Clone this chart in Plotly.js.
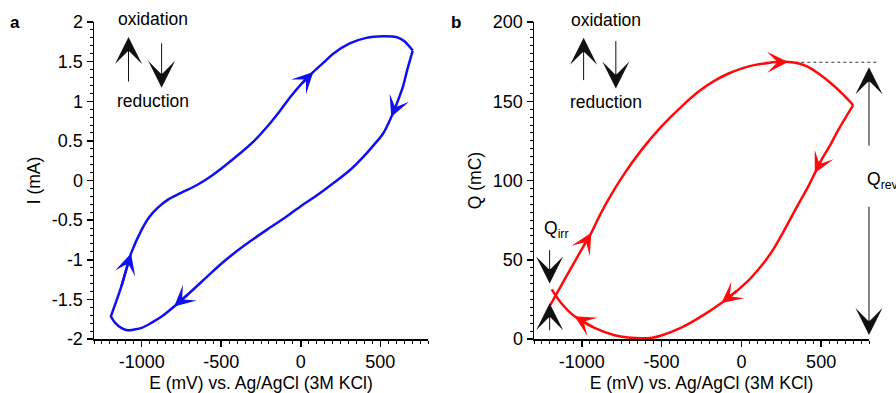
<!DOCTYPE html>
<html><head><meta charset="utf-8">
<script src="https://cdn.plot.ly/plotly-3.0.1.min.js"></script>
<style>html,body{margin:0;padding:0;background:#fff}#chart{width:896px;height:393px}</style>
</head><body><div id="chart"></div>
<script>
// Panel a: cyclic voltammogram, E (mV) and I (mA)
const aE_ox = [-1195, -1130, -1067, -1000, -952, -900, -837, -756, -652, -569, -485, -381, -298, -194, -130, -67, 0, 79, 150, 204, 308, 412, 517, 600, 650, 704];
const aI_ox = [-1.72, -1.35, -0.92, -0.62, -0.46, -0.345, -0.245, -0.16, -0.057, 0.048, 0.174, 0.343, 0.49, 0.72, 0.88, 1.05, 1.21, 1.37, 1.50, 1.60, 1.73, 1.80, 1.82, 1.81, 1.76, 1.64];
const aE_red = [704, 670, 642, 600, 569, 517, 460, 412, 360, 308, 204, 100, -4, -100, -212, -320, -421, -500, -587, -700, -796, -870, -942, -1000, -1046, -1090, -1129, -1165, -1195];
const aI_red = [1.64, 1.40, 1.18, 0.95, 0.80, 0.59, 0.45, 0.34, 0.23, 0.13, -0.036, -0.19, -0.33, -0.47, -0.62, -0.77, -0.92, -1.05, -1.21, -1.42, -1.59, -1.71, -1.80, -1.86, -1.88, -1.89, -1.86, -1.80, -1.71];
// Panel b: charge Q (mC)
const bE_ox = [-1198, -1150, -1100, -1041, -990, -941, -890, -837, -732, -628, -502, -377, -270, -167, -80, 0, 80, 167, 230, 293, 360, 418, 490, 565, 640, 701];
const bQ_ox = [21.4, 30, 39, 49.5, 58.5, 67, 77.5, 87.5, 104.5, 119, 134, 146.5, 156, 163, 167.5, 170.6, 172.8, 174.2, 174.7, 174.8, 173.8, 171.7, 167, 161, 154, 147.5];
const bE_red = [701, 655, 607, 555, 502, 460, 418, 365, 314, 260, 209, 155, 105, 40, -21, -125, -251, -377, -502, -560, -628, -710, -795, -921, -1046, -1130, -1189];
const bQ_red = [147.5, 140, 131.8, 122, 113, 104.5, 96, 86.5, 77, 67, 58, 50, 43.7, 36.5, 31, 22.7, 14.3, 7.2, 2.2, 0.8, 0.4, 0.9, 2.4, 7.0, 14.3, 22.7, 31.3];
// Direction arrows: index of arrow tip in each branch
const aArrOx = [2, 17], aArrRed = [4, 20];
const bArrOx = [5, 19], bArrRed = [5, 15, 24];
// Reversible charge level line
const qRevLevel = 174.6, qRevStart = 150, qRevEnd = 848;
// Ticks
const xRange = [-1300, 800];
const aYRange = [-2, 2], bYRange = [0, 200];
const xTickVals = [-1000, -500, 0, 500];
const xTickText = ['-1000', '-500', '0', '500'];
const aYTickVals = [-2, -1.5, -1, -0.5, 0, 0.5, 1, 1.5, 2];
const aYTickText = ['-2', '-1.5', '-1', '-0.5', '0', '0.5', '1', '1.5', '2'];
const bYTickVals = [0, 50, 100, 150, 200];
const bYTickText = ['0', '50', '100', '150', '200'];

const FONT = 'Liberation Sans, Arial, sans-serif';
const FS = 17.5;
const BLUE = '#1010f0', RED = '#ff0a0a';
const dom1 = [0, 334/775], dom2 = [440/775, 1];

function curve(x, y, color, xa, ya) {
  return {x: x, y: y, type: 'scatter', mode: 'lines', xaxis: xa, yaxis: ya,
    line: {color: color, width: 2.5, shape: 'spline', smoothing: 0.8}, hoverinfo: 'skip'};
}
const traces = [
  curve(aE_ox, aI_ox, BLUE, 'x', 'y'),
  curve(aE_red, aI_red, BLUE, 'x', 'y'),
  curve(bE_ox, bQ_ox, RED, 'x2', 'y2'),
  curve(bE_red, bQ_red, RED, 'x2', 'y2')
];

const ann = [];
function dirArrow(xs, ys, i, color, xr, yr) {
  ann.push({x: xs[i], y: ys[i], ax: xs[i-1], ay: ys[i-1], xref: xr, yref: yr, axref: xr, ayref: yr,
    text: '', showarrow: true, arrowhead: 3, arrowsize: 1.4, arrowwidth: 2.5, arrowcolor: color});
}
aArrOx.forEach(i => dirArrow(aE_ox, aI_ox, i, BLUE, 'x', 'y'));
aArrRed.forEach(i => dirArrow(aE_red, aI_red, i, BLUE, 'x', 'y'));
bArrOx.forEach(i => dirArrow(bE_ox, bQ_ox, i, RED, 'x2', 'y2'));
bArrRed.forEach(i => dirArrow(bE_red, bQ_red, i, RED, 'x2', 'y2'));

function blackArrow(x, y0, y1, xr, yr) {
  ann.push({x: x, y: y1, ax: x, ay: y0, xref: xr, yref: yr, axref: xr, ayref: yr,
    text: '', showarrow: true, arrowhead: 3, arrowsize: 4.5, arrowwidth: 1, arrowcolor: '#111'});
}
function dom(v, r) { return (v - r[0]) / (r[1] - r[0]); }
function label(x, y, text, xr, yr, xanchor) {
  ann.push({x: x, y: y, xref: xr, yref: yr, text: text, showarrow: false,
    xanchor: xanchor || 'center', yanchor: 'middle', font: {family: FONT, size: FS, color: '#000'}});
}
// panel a notes
label(-931, dom(2.04, aYRange), 'oxidation', 'x', 'y domain');
label(-931, dom(1.0, aYRange), 'reduction', 'x', 'y domain');
blackArrow(-1083, 1.23, 1.81, 'x', 'y');
blackArrow(-875, 1.75, 1.17, 'x', 'y');
// panel b notes
label(-846, dom(201.4, bYRange), 'oxidation', 'x2', 'y2 domain');
label(-846, dom(149.8, bYRange), 'reduction', 'x2', 'y2 domain');
blackArrow(-989, 162.4, 190, 'x2', 'y2');
blackArrow(-787, 188.9, 158, 'x2', 'y2');
// Q_irr
label(-1250, 69, 'Q<sub>irr</sub>', 'x2', 'y2', 'left');
blackArrow(-1202, 57, 35, 'x2', 'y2');
blackArrow(-1202, 4.6, 22.6, 'x2', 'y2');
// Q_rev
label(772, 100, 'Q<sub>rev</sub>', 'x2', 'y2', 'left');
blackArrow(800, 121, 171.4, 'x2', 'y2');
blackArrow(800, 84.4, 2.5, 'x2', 'y2');
// panel letters
ann.push({x: (15-94)/775, y: (393-54-23)/317, xref: 'paper', yref: 'paper', text: '<b>a</b>', showarrow: false,
  xanchor: 'center', yanchor: 'middle', font: {family: FONT, size: 17, color: '#000'}});
ann.push({x: (456-94)/775, y: (393-54-23)/317, xref: 'paper', yref: 'paper', text: '<b>b</b>', showarrow: false,
  xanchor: 'center', yanchor: 'middle', font: {family: FONT, size: 17, color: '#000'}});

function toPaperX(v) { return dom2[0] + (v - xRange[0]) / (xRange[1] - xRange[0]) * (dom2[1] - dom2[0]); }

function xax(d, anchor) {
  return {domain: d, anchor: anchor, range: xRange, tickmode: 'array', tickvals: xTickVals, ticktext: xTickText,
    showline: true, linecolor: '#000', linewidth: 1.5, ticks: 'outside', ticklen: 6, tickwidth: 1.5, tickcolor: '#000',
    minor: {tickmode: 'linear', tick0: 0, dtick: 50, ticks: 'outside', ticklen: 3, tickwidth: 1, tickcolor: '#000', showgrid: false},
    showgrid: false, zeroline: false, automargin: false, fixedrange: true,
    tickfont: {family: FONT, size: 18, color: '#000'},
    title: {text: 'E (mV) vs. Ag/AgCl (3M KCl)', font: {family: FONT, size: FS, color: '#000'}, standoff: 5}};
}
function yax(anchor, range, vals, text, dm, title) {
  return {anchor: anchor, domain: [0, 1], range: range, tickmode: 'array', tickvals: vals, ticktext: text,
    showline: true, linecolor: '#000', linewidth: 1.5, ticks: 'outside', ticklen: 6, tickwidth: 1.5, tickcolor: '#000',
    minor: {tickmode: 'linear', tick0: 0, dtick: dm, ticks: 'outside', ticklen: 3, tickwidth: 1, tickcolor: '#000', showgrid: false},
    showgrid: false, zeroline: false, automargin: false, fixedrange: true,
    tickfont: {family: FONT, size: 18, color: '#000'},
    title: {text: title, font: {family: FONT, size: FS, color: '#000'}, standoff: 6}};
}

const layout = {
  width: 896, height: 393, margin: {l: 94, r: 27, t: 22, b: 54},
  paper_bgcolor: '#fff', plot_bgcolor: '#fff', showlegend: false,
  font: {family: FONT, size: FS, color: '#000'},
  xaxis: xax(dom1, 'y'),
  yaxis: yax('x', aYRange, aYTickVals, aYTickText, 0.1, 'I (mA)'),
  xaxis2: xax(dom2, 'y2'),
  yaxis2: yax('x2', bYRange, bYTickVals, bYTickText, 5, 'Q (mC)'),
  annotations: ann,
  shapes: [{type: 'line', xref: 'paper', yref: 'y2', x0: toPaperX(qRevStart), x1: toPaperX(qRevEnd),
    y0: qRevLevel, y1: qRevLevel, line: {color: '#333', width: 1, dash: 'dot'}, layer: 'below'}]
};
Plotly.newPlot('chart', traces, layout, {staticPlot: true, displayModeBar: false});
</script></body></html>
